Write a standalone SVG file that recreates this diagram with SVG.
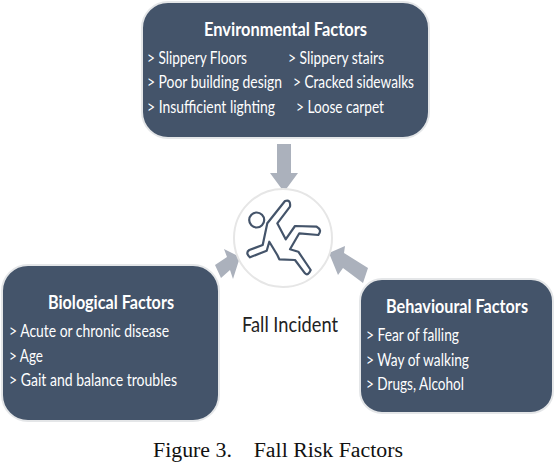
<svg xmlns="http://www.w3.org/2000/svg" width="556" height="466" viewBox="0 0 556 466">
<style>
.box{fill:#44546a;stroke:#e4e6e8;stroke-width:2}
.t{font-family:Lato,"Open Sans",sans-serif;fill:#fff}
.h{font-size:19px;font-weight:700}
.b{font-size:17.5px}
.s{font-size:16.5px}
.arrow{fill:#abb1bc}
</style>
<rect width="556" height="466" fill="#fff"/>
<g id="connectors">
<polygon class="arrow" points="277,144 291,144 291,173 298,173 284,192 270,173 277,173"/>
<polygon class="arrow" points="215,265 227,257 224,249 240,257 233,279 230,270 221,278"/>
<polygon class="arrow" points="368,268 363,283 343,268 338,275 329,253 345,246 344,253"/>
</g>
<g id="fall-incident">
<circle cx="283" cy="238" r="49" fill="#fff" stroke="#e6e6e6" stroke-width="2"/>
<circle cx="256.7" cy="220" r="7.5" fill="#fff" stroke="#44546a" stroke-width="2.2"/>
<path d="M285,201 L267.3,223.3 L262.7,245 L249.3,250 Q245,253 250,257.3 L266.7,250.7 L269.3,241.7 L277.3,255 L279.3,259.3 L295,260 L305,273.3 Q308,276.5 310.7,270 L298.3,251.7 L290,249.3 L299.3,233.3 L318.3,235 Q322.5,230 316.7,226.7 L295,226 L285.7,239.3 L277.3,223.3 L290,206.7 Q291,199 285,201 Z" fill="#fff" stroke="#44546a" stroke-width="2.2" stroke-linejoin="round"/>
<text x="242" y="332" font-family="Lato,'Open Sans',sans-serif" font-size="22" fill="#222" textLength="96" lengthAdjust="spacingAndGlyphs">Fall Incident</text>
</g>
<g id="environmental">
<rect class="box" x="142" y="2" width="287" height="136" rx="26"/>
<text class="t h" x="204" y="36" textLength="163" lengthAdjust="spacingAndGlyphs">Environmental Factors</text>
<text class="t b" x="147" y="64" textLength="100" lengthAdjust="spacingAndGlyphs">&gt; Slippery Floors</text>
<text class="t b" x="288" y="64" textLength="96" lengthAdjust="spacingAndGlyphs">&gt; Slippery stairs</text>
<text class="t s" x="147" y="88" textLength="135" lengthAdjust="spacingAndGlyphs">&gt; Poor building design</text>
<text class="t s" x="293" y="88" textLength="121" lengthAdjust="spacingAndGlyphs">&gt; Cracked sidewalks</text>
<text class="t s" x="147" y="113" textLength="128" lengthAdjust="spacingAndGlyphs">&gt; Insufficient lighting</text>
<text class="t s" x="296" y="113" textLength="88" lengthAdjust="spacingAndGlyphs">&gt; Loose carpet</text>
</g>
<g id="biological">
<rect class="box" x="2" y="265" width="217" height="156" rx="26"/>
<text class="t h" x="48" y="309" textLength="126" lengthAdjust="spacingAndGlyphs">Biological Factors</text>
<text class="t b" x="9" y="337" textLength="160" lengthAdjust="spacingAndGlyphs">&gt; Acute or chronic disease</text>
<text class="t b" x="9" y="362" textLength="34" lengthAdjust="spacingAndGlyphs">&gt; Age</text>
<text class="t b" x="9" y="386" textLength="168" lengthAdjust="spacingAndGlyphs">&gt; Gait and balance troubles</text>
</g>
<g id="behavioural">
<rect class="box" x="360" y="279" width="193" height="134" rx="22"/>
<text class="t h" x="386" y="313" textLength="142" lengthAdjust="spacingAndGlyphs">Behavioural Factors</text>
<text class="t b" x="366" y="341" textLength="93" lengthAdjust="spacingAndGlyphs">&gt; Fear of falling</text>
<text class="t b" x="366" y="366" textLength="103" lengthAdjust="spacingAndGlyphs">&gt; Way of walking</text>
<text class="t b" x="366" y="390" textLength="98" lengthAdjust="spacingAndGlyphs">&gt; Drugs, Alcohol</text>
</g>
<text id="caption" x="153" y="457" font-family="'Liberation Serif',serif" font-size="20" fill="#111" xml:space="preserve" textLength="250" lengthAdjust="spacingAndGlyphs">Figure 3.    Fall Risk Factors</text>
</svg>
